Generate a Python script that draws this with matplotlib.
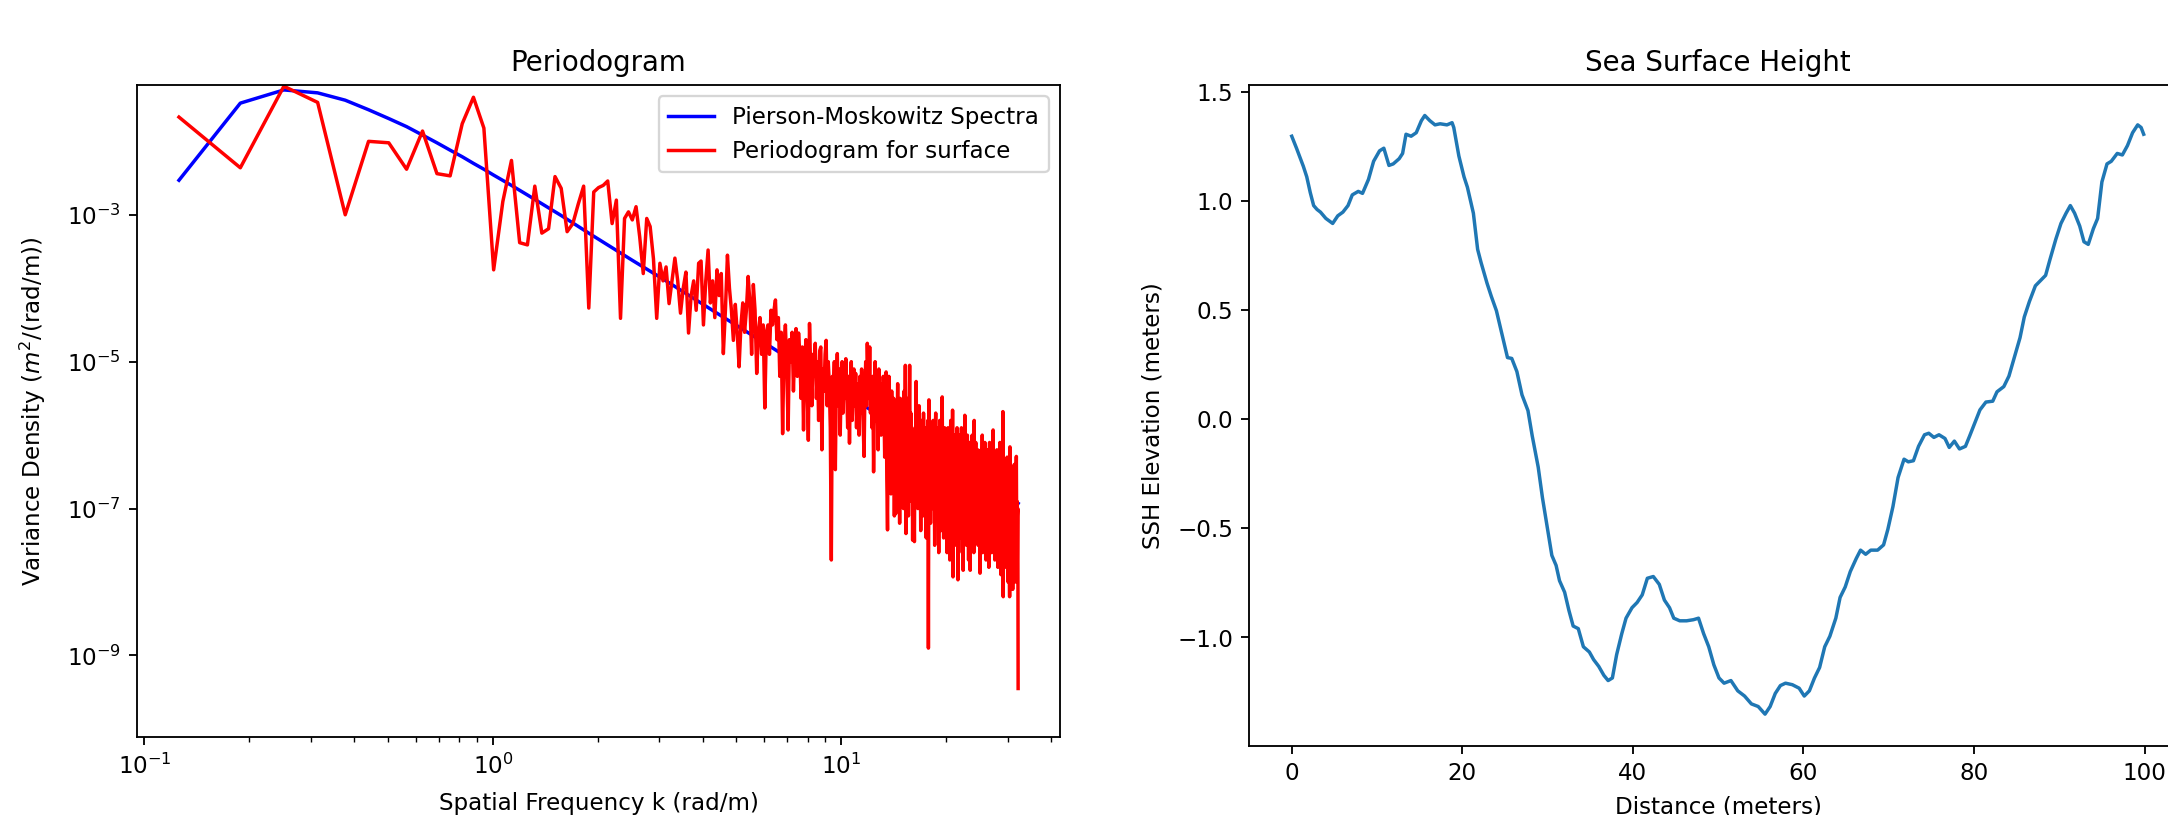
import numpy as np
import matplotlib
matplotlib.use("Agg")
import matplotlib.pyplot as plt
from matplotlib.ticker import NullLocator

# ---------------- data ----------------
# wavenumber step (rad/m) and periodogram bin indices
dk = 2 * np.pi / 100.0

# Periodogram for surface, log10 of variance density, bins n = 2 .. 512
red_log = [
    -1.67, -2.36, -1.25, -1.47, -3.00, -2.00, -2.02, -2.38, -1.86, -2.44,
    -2.47, -1.76, -1.40, -1.82, -3.75, -2.82, -2.26, -3.38, -3.41, -2.61,
    -3.25, -3.19, -2.48, -2.64, -3.23, -3.12, -2.85, -2.61, -4.27, -2.69,
    -2.63, -2.60, -2.54, -3.12, -2.80, -4.41, -3.05, -2.96, -3.07, -2.89,
    -3.30, -3.80, -3.05, -3.16, -3.60, -4.41, -3.66, -3.90, -3.71, -4.21,
    -3.90, -3.59, -3.90, -4.34, -4.00, -3.78, -4.61, -4.10, -3.90, -4.30,
    -3.66, -3.63, -4.50, -3.90, -3.48, -4.20, -3.90, -4.40, -3.75, -4.10,
    -3.80, -4.89, -4.30, -3.55, -4.00, -4.30, -4.71, -4.22, -4.60, -5.07,
    -4.50, -4.20, -4.60, -4.30, -3.84, -4.20, -4.90, -3.95, -4.30, -5.16,
    -4.60, -4.40, -4.90, -4.50, -5.63, -4.60, -4.50, -4.90, -4.30, -4.50,
    -4.30, -4.16, -4.70, -4.40, -5.20, -4.60, -5.98, -4.80, -4.50, -5.10,
    -5.93, -4.70, -5.00, -4.60, -5.40, -4.80, -4.55, -5.20, -4.61, -4.90,
    -5.50, -4.80, -5.93, -5.00, -4.70, -5.30, -6.07, -4.48, -5.10, -5.60,
    -4.90, -5.20, -4.75, -5.50, -5.00, -5.80, -4.85, -4.80, -6.20, -5.10,
    -5.40, -4.90, -4.71, -5.60, -5.00, -5.30, -5.90, -7.70, -5.20, -5.50,
    -5.00, -6.47, -5.30, -4.89, -5.60, -5.10, -6.00, -5.30, -5.00, -5.70,
    -5.20, -5.50, -4.96, -5.40, -5.90, -5.20, -6.11, -5.30, -5.00, -5.80,
    -5.40, -5.10, -5.60, -5.16, -5.90, -5.30, -5.50, -6.00, -5.20, -5.70,
    -5.10, -5.50, -5.90, -6.29, -5.40, -5.00, -5.60, -4.75, -5.20, -5.50,
    -4.80, -5.70, -5.30, -5.90, -5.20, -6.50, -5.60, -5.00, -5.80, -5.30,
    -5.60, -6.20, -5.10, -5.70, -5.40, -6.00, -5.30, -5.90, -5.20, -5.60,
    -6.30, -5.50, -5.14, -6.60, -7.29, -5.80, -5.20, -6.10, -5.60, -6.80,
    -5.40, -5.90, -6.40, -5.50, -7.10, -5.70, -7.07, -5.60, -6.00, -5.30,
    -6.50, -5.80, -7.20, -5.50, -6.90, -5.90, -6.30, -5.60, -7.00, -5.40,
    -6.60, -5.05, -7.34, -5.80, -6.20, -5.50, -7.10, -5.90, -5.05, -6.40,
    -5.70, -6.90, -6.00, -7.43, -6.30, -6.80, -7.45, -5.90, -6.20,
    -5.27, -6.40, -5.90, -7.00, -6.10, -5.60, -6.80, -6.20, -7.30, -5.80,
    -6.50, -6.00, -7.10, -5.70, -6.30, -6.90, -5.90, -6.60, -7.40, -6.00,
    -6.40, -5.80, -8.90, -5.52, -6.70, -6.10, -7.20, -5.90, -6.50, -7.00,
    -6.20, -5.80, -6.90, -6.40, -7.50, -6.00, -5.70, -6.80, -6.30, -7.10,
    -5.90, -6.60, -7.60, -6.20, -5.80, -6.90, -6.40, -7.30, -5.90, -5.48,
    -6.70, -6.10, -7.40, -6.50, -5.90, -7.00, -6.30, -6.80, -6.00, -7.60,
    -6.40, -5.90, -7.10, -6.60, -6.10, -7.70, -6.30, -5.80, -6.90, -6.50,
    -7.30, -5.66, -7.93, -6.20, -6.80, -6.00, -7.20, -6.50, -6.10, -7.50,
    -6.40, -5.90, -7.00, -7.97, -6.30, -6.70, -6.00, -7.40, -6.60, -6.20,
    -7.10, -5.90, -6.80, -7.60, -6.30, -7.84, -6.50, -6.10, -6.90, -5.73,
    -7.20, -6.60, -6.20, -7.50, -6.80, -6.00, -7.00, -6.40, -7.70, -6.30,
    -6.10, -6.90, -7.84, -6.50, -6.20, -7.30, -6.70, -6.00, -7.10, -6.60,
    -6.30, -7.60, -5.80, -6.90, -7.20, -6.40, -6.10, -7.40, -6.70, -6.50,
    -7.00, -6.20, -7.50, -6.80, -6.30, -7.10, -6.60, -7.88, -6.40, -6.90,
    -6.20, -7.30, -6.70, -6.00, -7.60, -6.50, -7.00, -6.30, -7.40, -6.80,
    -6.10, -7.20, -6.60, -7.70, -6.40, -6.90, -6.20, -7.50, -6.70, -7.00,
    -6.30, -7.80, -6.60, -6.10, -7.10, -6.80, -7.40, -6.40, -6.90, -7.60,
    -6.50, -7.00, -6.20, -5.93, -7.43, -6.70, -7.20, -6.40, -7.70, -6.60,
    -7.00, -6.30, -7.50, -6.80, -6.20, -7.30, -6.90, -7.80, -6.50, -7.10,
    -6.40, -7.60, -6.70, -6.10, -7.20, -6.80, -7.90, -6.50, -7.00, -6.30,
    -7.40, -6.60, -5.68, -8.20, -6.90, -7.10, -6.40, -7.70, -6.80, -7.30,
    -6.50, -7.00, -7.80, -6.60, -7.20, -6.30, -7.50, -6.90, -8.00, -6.70,
    -7.10, -6.40, -7.60, -8.20, -6.16, -7.30, -6.80, -7.90, -6.60, -7.20,
    -6.90, -7.50, -6.50, -8.10, -7.00, -7.70, -6.70, -7.30, -6.40, -7.60,
    -6.80, -7.40, -7.00, -8.00, -6.60, -6.29, -7.20, -6.90, -7.80, -7.10,
    -7.00, -9.45,
]

# Pierson-Moskowitz spectrum, log10 values read at selected bins
pm_bins = [2, 3, 4, 5, 6, 7, 8, 9, 10, 11, 12, 13, 14, 15, 16, 18, 20,
           25, 30, 40, 50, 70, 100, 150, 200, 300, 400, 512]
pm_log = [-2.53, -1.48, -1.30, -1.34, -1.44, -1.57, -1.69, -1.80, -1.915,
          -2.02, -2.12, -2.21, -2.30, -2.38, -2.46, -2.60, -2.73, -3.01,
          -3.25, -3.62, -3.90, -4.34, -4.80, -5.33, -5.70, -6.23, -6.61, -6.93]

# y tick positions on the periodogram
pgram_yticks = [1e-9, 1e-7, 1e-5, 1e-3]

# Sea surface height profile (distance in m, elevation in m)
ssh_x = [0.0, 0.56, 1.36, 1.76, 2.17, 2.57, 2.97, 3.37, 4.0, 4.8, 5.4, 6.0,
         6.6, 7.1, 7.8, 8.3, 9.0, 9.6, 10.3, 10.8, 11.4, 11.9, 12.6, 13.0,
         13.4, 14.0, 14.6, 15.2, 15.6, 16.2, 16.8, 17.4, 18.2, 18.8, 19.0,
         19.6, 20.2, 20.6, 21.3, 21.8, 22.2, 22.9, 23.4, 24.0, 24.6, 25.3,
         25.8, 26.4, 27.0, 27.7, 28.2, 28.9, 29.4, 30.0, 30.5, 31.0, 31.4,
         32.0, 32.5, 33.0, 33.6, 34.2, 34.9, 35.4, 36.0, 36.6, 37.1, 37.6,
         38.1, 38.7, 39.2, 39.9, 40.5, 41.1, 41.7, 42.4, 43.1, 43.7, 44.3,
         44.8, 45.5, 46.3, 47.1, 47.7, 48.3, 48.9, 49.5, 50.1, 50.7, 51.5,
         52.3, 53.1, 53.9, 54.7, 55.5, 56.1, 56.7, 57.3, 57.9, 58.7, 59.5,
         60.1, 60.7, 61.3, 61.9, 62.5, 63.1, 63.8, 64.3, 64.9, 65.5, 66.2,
         66.7, 67.3, 67.9, 68.7, 69.4, 69.9, 70.5, 71.1, 71.8, 72.3, 72.9,
         73.5, 74.2, 74.7, 75.3, 75.9, 76.6, 77.1, 77.7, 78.3, 79.0, 79.5,
         80.1, 80.7, 81.4, 82.2, 82.7, 83.5, 84.1, 84.7, 85.4, 85.9, 86.5,
         87.2, 87.8, 88.4, 88.9, 89.6, 90.2, 90.8, 91.3, 91.8, 92.4, 92.9,
         93.4, 94.0, 94.5, 95.0, 95.6, 96.1, 96.8, 97.4, 98.0, 98.6, 99.2,
         99.6, 99.9]
ssh_y = [1.298, 1.243, 1.16, 1.112, 1.04, 0.98, 0.962, 0.95, 0.921, 0.898,
         0.933, 0.95, 0.98, 1.029, 1.045, 1.036, 1.10, 1.183, 1.231, 1.243,
         1.164, 1.171, 1.195, 1.219, 1.307, 1.298, 1.314, 1.369, 1.393,
         1.369, 1.35, 1.355, 1.35, 1.36, 1.338, 1.207, 1.112, 1.064, 0.945,
         0.779, 0.719, 0.624, 0.564, 0.498, 0.398, 0.283, 0.279, 0.219,
         0.112, 0.04, -0.076, -0.219, -0.36, -0.505, -0.624, -0.67, -0.74,
         -0.793, -0.876, -0.948, -0.96, -1.043, -1.067, -1.102, -1.133,
         -1.174, -1.198, -1.186, -1.079, -0.983, -0.912, -0.864, -0.84,
         -0.805, -0.729, -0.721, -0.757, -0.829, -0.864, -0.912, -0.924,
         -0.924, -0.919, -0.912, -0.983, -1.043, -1.126, -1.186, -1.21,
         -1.198, -1.245, -1.269, -1.305, -1.317, -1.352, -1.317, -1.257,
         -1.221, -1.21, -1.217, -1.233, -1.269, -1.245, -1.186, -1.138,
         -1.043, -0.995, -0.912, -0.817, -0.769, -0.698, -0.638, -0.60,
         -0.619, -0.60, -0.60, -0.576, -0.505, -0.40, -0.267, -0.183, -0.195,
         -0.19, -0.124, -0.071, -0.064, -0.083, -0.071, -0.088, -0.129,
         -0.10, -0.136, -0.124, -0.076, -0.017, 0.043, 0.079, 0.083, 0.126,
         0.15, 0.198, 0.279, 0.374, 0.469, 0.54, 0.612, 0.636, 0.66, 0.731,
         0.826, 0.898, 0.945, 0.98, 0.945, 0.886, 0.814, 0.802, 0.874, 0.921,
         1.088, 1.171, 1.183, 1.219, 1.212, 1.255, 1.314, 1.35, 1.338, 1.307]

# ---------------- figure ----------------
DPI = 166
W, H = 2168, 815
fig = plt.figure(figsize=(W / DPI + 0.001, H / DPI + 0.001), dpi=DPI)
fig.patch.set_facecolor("white")

def frac(x0, y0, x1, y1):
    return [x0 / W, 1 - y1 / H, (x1 - x0) / W, (y1 - y0) / H]

ax1 = fig.add_axes(frac(137, 85, 1060, 737))
ax2 = fig.add_axes(frac(1249, 85, 2187, 746))

k_red = dk * np.arange(2, 2 + len(red_log))
k_pm = dk * np.array(pm_bins)

ax1.loglog(k_pm, 10 ** np.array(pm_log), color="blue", lw=1.5,
           label="Pierson-Moskowitz Spectra")
ax1.loglog(k_red, 10 ** np.array(red_log), color="red", lw=1.5,
           label="Periodogram for surface")
ax1.set_ylim(10 ** -10.11, 10 ** -1.231)
ax1.set_yticks(pgram_yticks)
ax1.yaxis.set_minor_locator(NullLocator())
ax1.set_title("Periodogram")
ax1.set_xlabel("Spatial Frequency k (rad/m)", labelpad=5.8)
ax1.set_ylabel("Variance Density ($m^2$/(rad/m))", labelpad=8.0)
ax1.legend(loc="upper right")

ax2.plot(ssh_x, ssh_y, color="#1f77b4", lw=1.5)
ax2.set_xlim(-5, 105)
ax2.set_ylim(-1.498, 1.5335)
ax2.set_title("Sea Surface Height")
ax2.set_xlabel("Distance (meters)", labelpad=4.5)
ax2.set_ylabel("SSH Elevation (meters)", labelpad=5.6)

fig.savefig("out.png", dpi=DPI)
